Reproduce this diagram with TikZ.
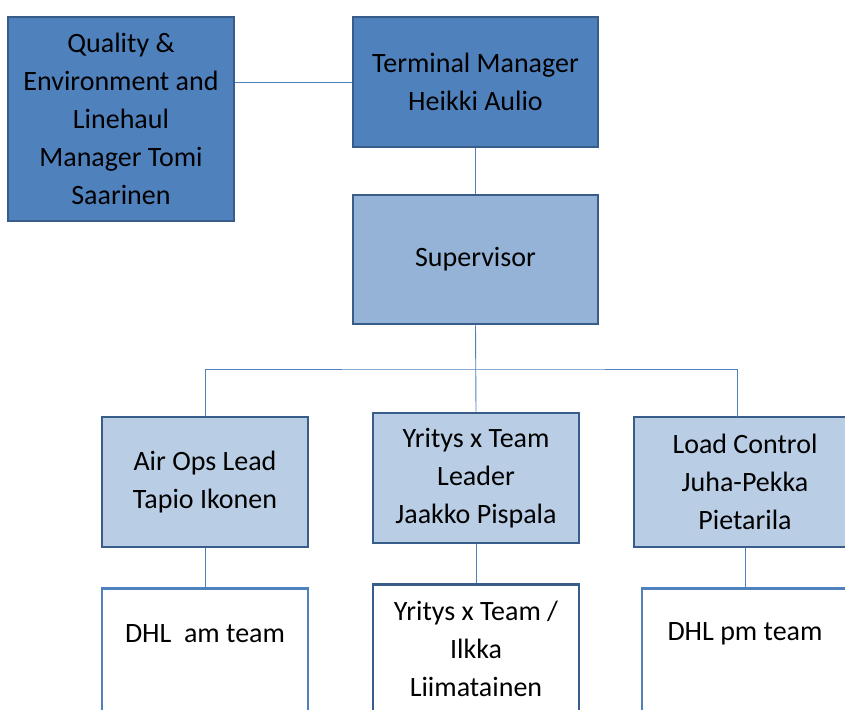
\documentclass[tikz,border=0pt]{standalone}
\usepackage{fontspec}
\setmainfont{Carlito}
\definecolor{boxdark}{HTML}{4F81BD}
\definecolor{boxmid}{HTML}{95B3D7}
\definecolor{boxlight}{HTML}{B9CDE5}
\definecolor{edgeblue}{HTML}{385D8A}
% top aligned text inside the open team boxes
\newcommand{\teamtext}[2]{\parbox[c][150pt][t]{200pt}{\centering\vspace*{#1}\strut #2}}
\begin{document}
\begin{tikzpicture}[x=1pt, y=-1pt,
        orgbox/.style={draw=edgeblue, line width=2.8pt, align=center, inner sep=0pt,
            font=\fontsize{28}{38}\selectfont},
        topbox/.style={orgbox, fill=boxdark},
        midbox/.style={orgbox, fill=boxmid},
        leadbox/.style={orgbox, fill=boxlight, minimum width=206, minimum height=130},
        teambox/.style={orgbox, fill=white, anchor=north, minimum width=206, minimum height=160},
        link/.style={draw=boxdark, line width=0.9pt}]
    \useasboundingbox (0,0) rectangle (845,709);
    \clip (0,0) rectangle (845,709);
    \node [topbox, minimum width=226, minimum height=204] (qual) at (121,119)
        {Quality \&\\Environment and\\Linehaul\\Manager Tomi\\Saarinen};
    \node [topbox, minimum width=245, minimum height=130] (term) at (475.5,82)
        {Terminal Manager\\Heikki Aulio};
    \node [midbox, minimum width=245, minimum height=129] (sup) at (475.5,259.5) {Supervisor};
    \node [leadbox] (air) at (205,482) {Air Ops Lead\\Tapio Ikonen};
    \node [leadbox] (lead) at (476,478) {Yritys x Team\\Leader\\Jaakko Pispala};
    \node [leadbox, minimum width=222] (load) at (745,482) {Load Control\\Juha-Pekka\\Pietarila};
    \node [teambox, draw=boxdark] (dhlam) at (205,587) {\teamtext{22pt}{DHL~ am team}};
    \node [teambox] (teamx) at (476,583) {\teamtext{4pt}{Yritys x Team /\\Ilkka\\Liimatainen}};
    \node [teambox, draw=boxdark] (dhlpm) at (745,587) {\teamtext{20pt}{DHL pm team}};
    \coordinate (bus) at (475.5,369);
    \coordinate (loadin) at (737,417);
    % connectors
    \draw [link] (term.west) -- (term.west -| qual.east);
    \draw [link] (term) -- (sup);
    \draw [link] (sup.south) -- (lead.north);
    \draw [link] (air.north) |- (bus) -| (loadin);
    \draw [link] (air) -- (dhlam);
    \draw [link] (lead) -- (teamx);
    \draw [link] (load) -- (dhlpm);
\end{tikzpicture}
\end{document}
